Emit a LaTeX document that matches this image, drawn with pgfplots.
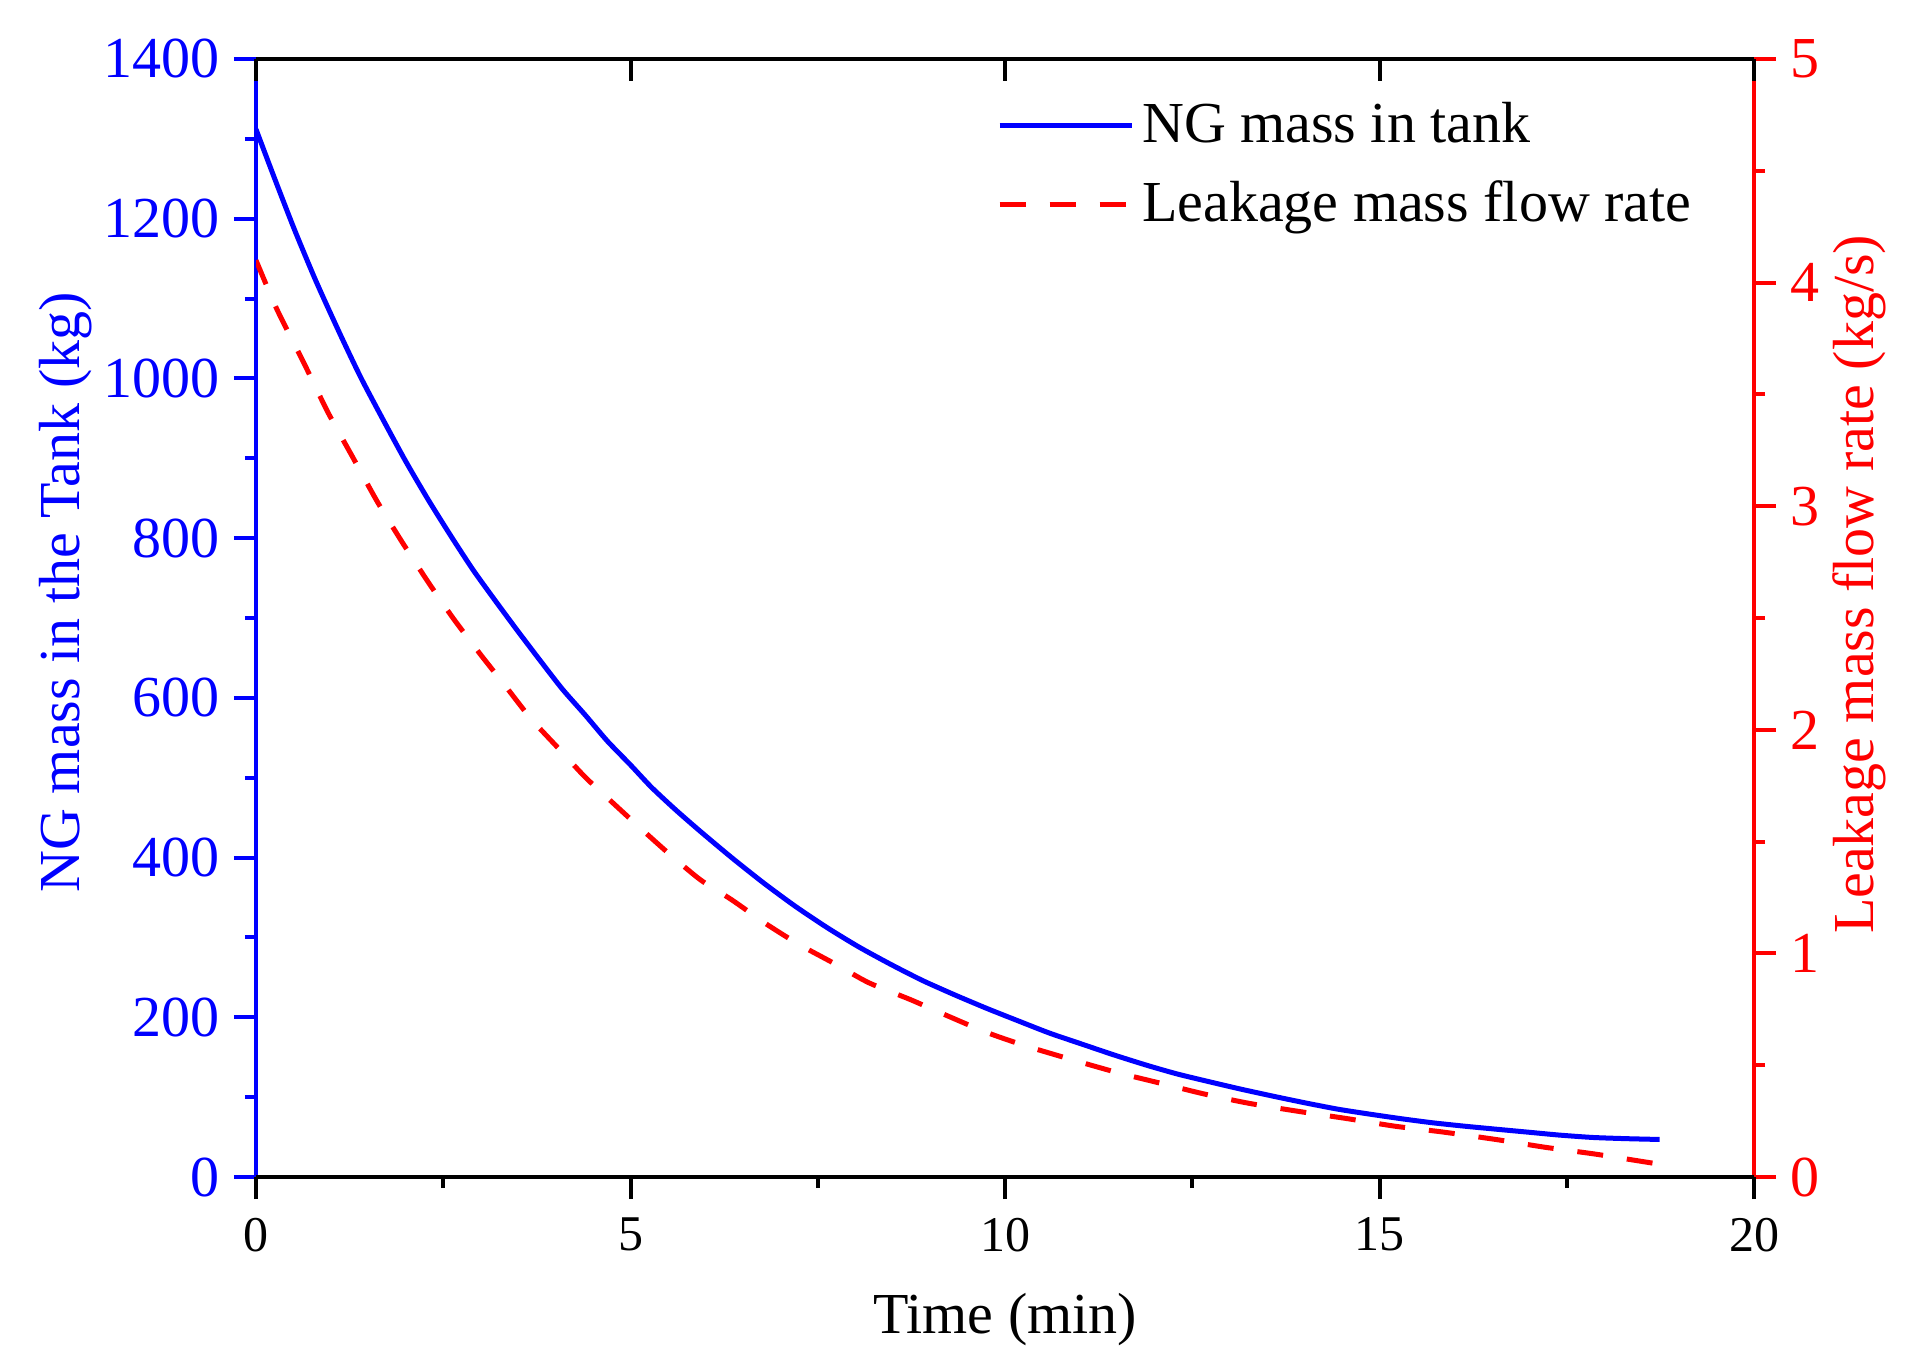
\documentclass[border=0pt]{standalone}
\usepackage{fontspec}
\setmainfont{Liberation Serif}
\usepackage{pgfplots}
\pgfplotsset{compat=1.18}

\definecolor{mblue}{RGB}{0,0,255}
\definecolor{mred}{RGB}{255,0,0}

\pgfplotsset{
  common/.style={
    scale only axis, width=374.5pt, height=279.5pt,
    xmin=0, xmax=20,
    /pgf/number format/assume math mode=true,
    /pgf/number format/1000 sep={},
    major tick length=5.5pt, minor tick length=2.75pt,
    every tick/.append style={line width=1pt},
    axis line style={line width=1pt},
    label style={font=\fontsize{14.5}{17}\selectfont},
  }
}

% NG mass in tank (kg)
\pgfplotstableread{
t m
0 1312
0.25 1250
0.515 1186
0.8 1122
1.11 1058
1.4 1001
1.71 946
2.0 896
2.30 848
2.6 803
2.90 760
3.2 721
3.50 683
3.8 646
4.09 611
4.4 578
4.69 546
5.0 516
5.28 488
5.6 460
5.93 433
6.35 400
6.78 368
7.2 339
7.63 312
8.05 288
8.48 266
8.9 246
9.33 228
9.76 211
10.19 195
10.6 180
11.04 166
11.45 153
11.89 140
12.3 129
12.74 119
13.15 110
13.59 101
14.0 93
14.44 85
14.85 79
15.29 73
15.7 68
16.14 63.6
16.6 59.5
17.0 56
17.4 52.5
17.85 49.5
18.3 48
18.74 47
}\masstable

% leakage mass flow rate (kg/s)
\pgfplotstableread{
t r
0 4.10
0.28 3.88
0.64 3.64
0.96 3.42
1.29 3.22
1.62 3.02
1.95 2.84
2.30 2.66
2.63 2.50
2.99 2.34
3.32 2.20
3.67 2.05
4.03 1.92
4.39 1.79
4.71 1.69
5.1 1.57
5.5 1.45
5.93 1.33
6.35 1.24
6.82 1.13
7.25 1.04
7.72 0.955
8.18 0.869
8.74 0.793
9.21 0.724
9.76 0.646
10.27 0.587
10.87 0.527
11.5 0.467
12.02 0.424
12.65 0.372
13.25 0.330
13.89 0.295
14.57 0.261
15.21 0.227
15.85 0.201
16.57 0.167
17.21 0.133
17.89 0.102
18.61 0.064
18.74 0.058
}\flowtable

\begin{document}
\begin{tikzpicture}
\useasboundingbox (-64pt,-45.75pt) rectangle (417pt,294.25pt);

% left axis
\begin{axis}[common,
  axis x line=none, axis y line*=left,
  tick align=outside,
  ymin=0, ymax=1400,
  ytick={0,200,...,1400}, minor y tick num=1,
  axis line style={mblue},
  every tick/.append style={mblue},
  yticklabel style={mblue, font=\fontsize{14.5}{17}\selectfont},
  ylabel={NG mass in the Tank (kg)},
  ylabel style={mblue, at={(ticklabel cs:0.523)}},
  ylabel shift=-4pt,
]
\addplot[mblue, line width=1.25pt, smooth, tension=0.4] table[x=t, y=m] {\masstable};
\end{axis}

% right axis
\begin{axis}[common,
  axis x line=none, axis y line*=right,
  tick align=outside,
  ymin=0, ymax=5,
  ytick={0,1,...,5}, minor y tick num=1,
  axis line style={mred},
  every tick/.append style={mred},
  yticklabel style={mred, font=\fontsize{14.5}{17}\selectfont},
  ylabel={Leakage mass flow rate (kg/s)},
  ylabel style={mred, at={(ticklabel cs:0.53)}},
  ylabel shift=-3.5pt,
]
\addplot[mred, line width=1.25pt, smooth, tension=0.4, dash pattern=on 6.5pt off 6pt] table[x=t, y=r] {\flowtable};
\end{axis}

% bottom axis
\begin{axis}[common,
  axis x line*=bottom, axis y line=none,
  tick align=outside,
  ymin=0, ymax=1,
  xtick={0,5,...,20}, minor x tick num=1,
  axis line style={black},
  every tick/.append style={black},
  xticklabel style={font=\fontsize{12.5}{15}\selectfont, yshift=-1.2pt},
  xlabel={Time (min)},
  xlabel style={yshift=-3.5pt},
]
\end{axis}

% top axis
\begin{axis}[common,
  axis x line*=top, axis y line=none,
  tick align=inside,
  ymin=0, ymax=1,
  xtick={0,5,...,20}, xticklabels={},
  axis line style={black},
  every tick/.append style={black},
  legend style={at={(rel axis cs:0.972,0.976)}, anchor=north east,
    draw=none, fill=none, font=\fontsize{14.5}{17}\selectfont,
    row sep=4pt, cells={anchor=west}},
  legend image code/.code={\draw[#1] (0pt,0pt) -- (33pt,0pt);},
]
\addlegendimage{mblue, line width=1.25pt}
\addlegendentry{NG mass in tank}
\addlegendimage{mred, line width=1.25pt, dash pattern=on 6.5pt off 6pt}
\addlegendentry{Leakage mass flow rate}
\end{axis}
\end{tikzpicture}
\end{document}
